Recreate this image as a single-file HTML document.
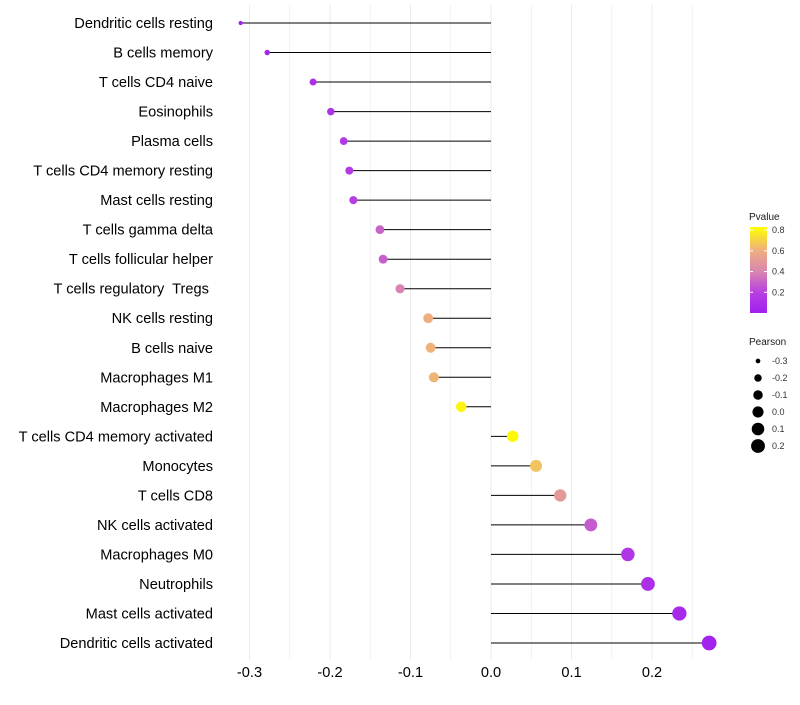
<!DOCTYPE html>
<html><head><meta charset="utf-8"><style>
body{margin:0;background:#fff;font-family:"Liberation Sans",sans-serif}
text{white-space:pre}
</style></head><body>
<svg id="chart" width="800" height="700" xmlns="http://www.w3.org/2000/svg">
<g id="grid"></g>
<g id="marks"></g>
<g id="ylabels"></g>
<g id="xticks"></g>
<g id="legend"></g>
</svg>
<script>
const categories=["Dendritic cells resting","B cells memory","T cells CD4 naive","Eosinophils","Plasma cells","T cells CD4 memory resting","Mast cells resting","T cells gamma delta","T cells follicular helper","T cells regulatory  Tregs ","NK cells resting","B cells naive","Macrophages M1","Macrophages M2","T cells CD4 memory activated","Monocytes","T cells CD8","NK cells activated","Macrophages M0","Neutrophils","Mast cells activated","Dendritic cells activated"];
const pearson=[-0.311,-0.278,-0.221,-0.199,-0.183,-0.176,-0.171,-0.138,-0.134,-0.113,-0.078,-0.075,-0.071,-0.037,0.027,0.056,0.086,0.124,0.170,0.195,0.234,0.271];
const pvalues=[0.02,0.04,0.09,0.12,0.16,0.17,0.18,0.30,0.29,0.40,0.60,0.61,0.62,0.80,0.81,0.66,0.50,0.28,0.14,0.10,0.06,0.02];
const xTicks=[-0.3,-0.2,-0.1,0.0,0.1,0.2];
const legendP=[0.8,0.6,0.4,0.2];
const legendSizes=[-0.3,-0.2,-0.1,0.0,0.1,0.2];
const NS="http://www.w3.org/2000/svg";
const x=v=>491+v*805;
const y=i=>23+i*(620/21);
const rad=v=>Math.sqrt(Math.max(3,31+85*v));
const stops=[[0,[160,32,240]],[0.2,[184,64,224]],[0.4,[216,134,176]],[0.6,[238,174,128]],[0.83,[255,255,0]]];
function col(p){p=Math.max(0,Math.min(0.83,p));for(let k=1;k<stops.length;k++){if(p<=stops[k][0]){const a=stops[k-1],b=stops[k],t=(p-a[0])/(b[0]-a[0]);return 'rgb('+a[1].map((c,j)=>Math.round(c+(b[1][j]-c)*t)).join(',')+')';}}return 'rgb(255,255,0)';}
function mk(t,attrs,parent){const e=document.createElementNS(NS,t);for(const k in attrs)e.setAttribute(k,attrs[k]);parent.appendChild(e);return e;}
const grid=document.getElementById('grid'),marks=document.getElementById('marks'),yl=document.getElementById('ylabels'),xt=document.getElementById('xticks'),lg=document.getElementById('legend');
for(let v=-0.30;v<=0.26;v+=0.05){const l=mk('line',{x1:x(v),x2:x(v),y1:5,y2:660,stroke:'#ebebeb','stroke-width':Math.abs(Math.round(v*20))%2===0?1:0.6},grid);

}
categories.forEach((c,i)=>{
const ln=mk('line',{x1:x(0),x2:x(pearson[i]),y1:y(i),y2:y(i),stroke:'#000','stroke-width':1},marks);


const pt=mk('circle',{cx:x(pearson[i]),cy:y(i),r:rad(pearson[i]),fill:col(pvalues[i])},marks);


const t=mk('text',{x:213,y:y(i)+5,'text-anchor':'end','font-size':14.6,fill:'#000'},yl);t.textContent=c;


});
xTicks.forEach(v=>{const t=mk('text',{x:x(v),y:677,'text-anchor':'middle','font-size':14.6,fill:'#000'},xt);t.textContent=v.toFixed(1);

});
const tt=mk('text',{x:749,y:220,'font-size':10,fill:'#1a1a1a'},lg);tt.textContent='Pvalue';


const defs=mk('defs',{},lg);const gr=mk('linearGradient',{id:'pg',x1:0,y1:1,x2:0,y2:0},defs);
[0,0.2,0.4,0.6,0.83].forEach(p=>mk('stop',{offset:p/0.83,'stop-color':col(p)},gr));
const bar=mk('rect',{x:750,y:227,width:17,height:86,fill:'url(#pg)'},lg);


const cy=p=>313-p*(86/0.83);
legendP.forEach(p=>{mk('line',{x1:750,x2:753,y1:cy(p),y2:cy(p),stroke:'#fff'},lg);mk('line',{x1:764,x2:767,y1:cy(p),y2:cy(p),stroke:'#fff'},lg);
const t=mk('text',{x:772,y:cy(p)+3,'font-size':9,fill:'#333'},lg);t.textContent=p.toFixed(1);

});
const st=mk('text',{x:749,y:345,'font-size':10,fill:'#1a1a1a'},lg);st.textContent='Pearson';


legendSizes.forEach((v,i)=>{const yy=361+i*17;
const c=mk('circle',{cx:758,cy:yy,r:rad(v),fill:'#000'},lg);


const t=mk('text',{x:772,y:yy+3,'font-size':9,fill:'#333'},lg);t.textContent=v.toFixed(1);

});
</script>
</body></html>
